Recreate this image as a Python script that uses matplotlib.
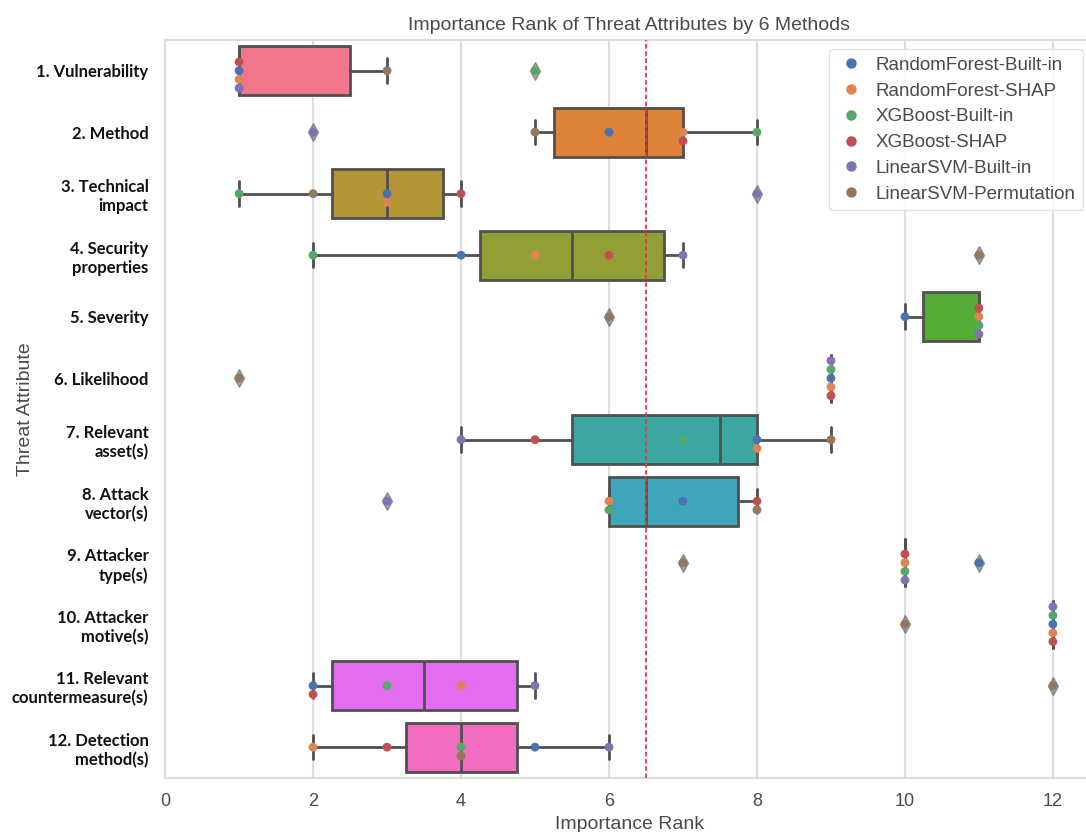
import matplotlib.pyplot as plt
import numpy as np
import seaborn as sns
from matplotlib.lines import Line2D

methods = [
    "RandomForest-Built-in",
    "RandomForest-SHAP",
    "XGBoost-Built-in",
    "XGBoost-SHAP",
    "LinearSVM-Built-in",
    "LinearSVM-Permutation",
]
attributes = [
    "1. Vulnerability",
    "2. Method",
    "3. Technical\nimpact",
    "4. Security\nproperties",
    "5. Severity",
    "6. Likelihood",
    "7. Relevant\nasset(s)",
    "8. Attack\nvector(s)",
    "9. Attacker\ntype(s)",
    "10. Attacker\nmotive(s)",
    "11. Relevant\ncountermeasure(s)",
    "12. Detection\nmethod(s)",
]

# importance rank of every attribute, one list per method
rf_builtin = [1, 6, 3, 4, 10, 9, 8, 7, 11, 12, 2, 5]
rf_shap = [1, 7, 3, 5, 11, 9, 8, 6, 10, 12, 4, 2]
xgb_builtin = [5, 8, 1, 2, 11, 9, 7, 6, 10, 12, 3, 4]
xgb_shap = [1, 7, 4, 6, 11, 9, 5, 8, 10, 12, 2, 3]
svm_builtin = [1, 2, 8, 7, 11, 9, 4, 3, 10, 12, 5, 6]
svm_permutation = [3, 5, 2, 11, 6, 1, 9, 8, 7, 10, 12, 4]

ranks = np.array([rf_builtin, rf_shap, xgb_builtin, xgb_shap,
                  svm_builtin, svm_permutation])  # (method, attribute)

sns.set_style("whitegrid")
plt.rcParams["font.family"] = ["Liberation Sans", "DejaVu Sans"]

box_colors = [sns.desaturate(c, 0.92) for c in sns.husl_palette(len(attributes))]
dot_colors = sns.color_palette("deep", len(methods))
line_gray = "#505050"
text_gray = "#4a4a4a"

fig = plt.figure(figsize=(10.86, 8.32), dpi=100)
ax = fig.add_axes([0.152, 0.065, 0.855, 0.887])

positions = np.arange(len(attributes))
bp = ax.boxplot(
    [ranks[:, i] for i in positions],
    positions=positions,
    orientation="horizontal",
    widths=0.8,
    patch_artist=True,
    whis=1.5,
    medianprops=dict(color=line_gray, linewidth=2),
    whiskerprops=dict(color=line_gray, linewidth=2),
    capprops=dict(color=line_gray, linewidth=2),
    boxprops=dict(edgecolor=line_gray, linewidth=2),
    flierprops=dict(marker="d", markersize=9, markerfacecolor=line_gray,
                    markeredgecolor=line_gray, alpha=0.5),
    zorder=2,
)
for patch, color in zip(bp["boxes"], box_colors):
    patch.set_facecolor(color)

# swarm-style stacking for ties: centre, below, above, ...
slots = [0, 1, -1, 2, -2, 3]
step = 0.142
for i in positions:
    used = {}
    for m in range(len(methods)):
        v = ranks[m, i]
        k = used.get(v, 0)
        used[v] = k + 1
        ax.scatter(v, i + slots[k] * step, s=40, color=dot_colors[m],
                   edgecolors="none", zorder=3)

ax.axvline(ranks.mean(), color="#e8383d", linestyle=(0, (2.5, 1.5)),
           linewidth=1.3, zorder=4)

ax.set_xlim(0, 12.55)
ax.set_ylim(len(attributes) - 0.5, -0.5)
ax.set_xticks(np.arange(0, 13, 2))
ax.set_yticks(positions)
ax.set_yticklabels(attributes, fontfamily="Lato", fontweight="bold",
                   fontsize=12, color="#111111", linespacing=1.25)
ax.yaxis.grid(False)
ax.xaxis.grid(True, color="#dddddd", linewidth=1.5)
ax.set_axisbelow(True)
ax.tick_params(axis="x", labelsize=13, colors=text_gray, pad=11, length=0)
ax.tick_params(axis="y", pad=12, length=0)
for s in ax.spines.values():
    s.set_color("#dddddd")
    s.set_linewidth(1.5)

ax.set_title("Importance Rank of Threat Attributes by 6 Methods",
             fontsize=14, color=text_gray, pad=7)
ax.set_xlabel("Importance Rank", fontsize=14, color=text_gray, labelpad=4)
ax.set_ylabel("Threat Attribute", fontsize=14, color=text_gray)
ax.yaxis.set_label_coords(-0.141, 0.5)

handles = [Line2D([], [], marker="o", linestyle="", markersize=7.5,
                  markerfacecolor=c, markeredgecolor="none") for c in dot_colors]
leg = ax.legend(handles, methods, loc="upper right",
                bbox_to_anchor=(0.999, 1.0), fontsize=13.5, frameon=True,
                labelcolor=text_gray, handletextpad=0.5, borderpad=0.4,
                labelspacing=0.46, handlelength=1.6)
leg.get_frame().set_edgecolor("#dddddd")

fig.savefig("out.png", dpi=100)
